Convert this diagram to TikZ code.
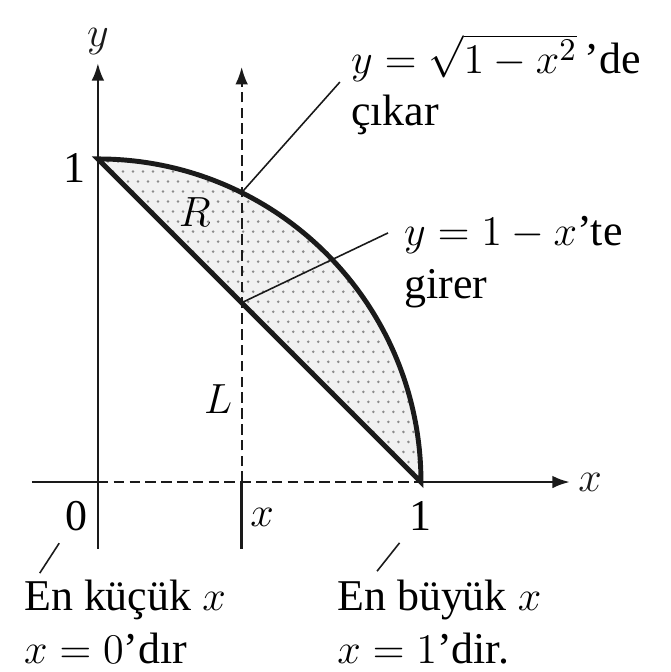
\documentclass[tikz,border=0pt]{standalone}
\usepackage{fontspec}
\setmainfont{Liberation Serif}
\usepackage{amsmath}
\usetikzlibrary{arrows.meta}
\definecolor{ink}{HTML}{1A1A1A}
\definecolor{tint}{HTML}{F1F1F1}
\definecolor{dot}{HTML}{8A8A8A}

\begin{document}
\begin{tikzpicture}[x=3.23cm,y=3.23cm,>={Latex[length=5pt,width=3.6pt]},font=\fontsize{12.5}{15}\selectfont,
  axis/.style={ink,line width=.75pt},bound/.style={ink,line width=1.4pt},
  dsh/.style={ink,line width=.6pt,dash pattern=on 3pt off 1.5pt},leader/.style={ink,line width=.45pt},
  txt/.style={align=left,inner sep=1pt,anchor=north west}]
\useasboundingbox (-0.303,-0.588) rectangle (1.771,1.492);
% region R
\fill[tint] (0,1) arc[start angle=90,end angle=0,radius=1] -- cycle;
\begin{scope}
\clip (0,1) arc[start angle=90,end angle=0,radius=1] -- cycle;
\foreach \i in {0,...,33} \foreach \j in {0,...,33} \fill[dot] ({\i*0.031+mod(\j,2)*0.0155},{\j*0.031}) circle[radius=.4pt];
\end{scope}
% axes
\draw[axis,->] (0,-0.207)--(0,1.297) node[above,inner sep=2pt] (ylab) {$y$};
\draw[axis] (-0.204,0)--(0,0);\draw[dsh] (0,0)--(1,0);\draw[axis,->] (1,0)--(1.461,0) node[right,inner sep=2pt] (xlab) {$x$};
\draw[axis] (0.445,-0.207)--(0.445,0);\draw[dsh,->] (0.445,0)--(0.445,1.285);
\draw[bound] (0,1) arc[start angle=90,end angle=0,radius=1] -- cycle;
% tick labels
\node (one y) at (-0.071,0.972) {1};\node (zero) at (-0.065,-0.105) {0};
\node (xval) at (0.508,-0.111) {$x$};\node (one x) at (1.0,-0.105) {1};
\node (L) at (0.372,0.257) {$L$};\node (R) at (0.300,0.836) {$R$};
% callouts
\coordinate (exit) at (0.445,0.896);\coordinate (enter) at (0.445,0.555);
\node[txt] (out) at (0.771,1.40) {$y=\sqrt{1-x^2}$\,’de\\çıkar};
\node[txt] (in) at (0.935,0.836) {$y=1-x$’te\\girer};
\node[txt] (min) at (-0.241,-0.29) {En küçük $x$\\$x=0$’dır};
\node[txt] (max) at (0.728,-0.29) {En büyük $x$\\$x=1$’dir.};
\coordinate (outend) at (0.749,1.238);\coordinate (inend) at (0.898,0.771);
\coordinate (minend) at (-0.180,-0.282);\coordinate (maxend) at (0.864,-0.276);
\draw[leader] (exit)--(outend);\draw[leader] (enter)--(inend);
\draw[leader] (zero)--(minend);\draw[leader] (one x)--(maxend);
\end{tikzpicture}
\end{document}
